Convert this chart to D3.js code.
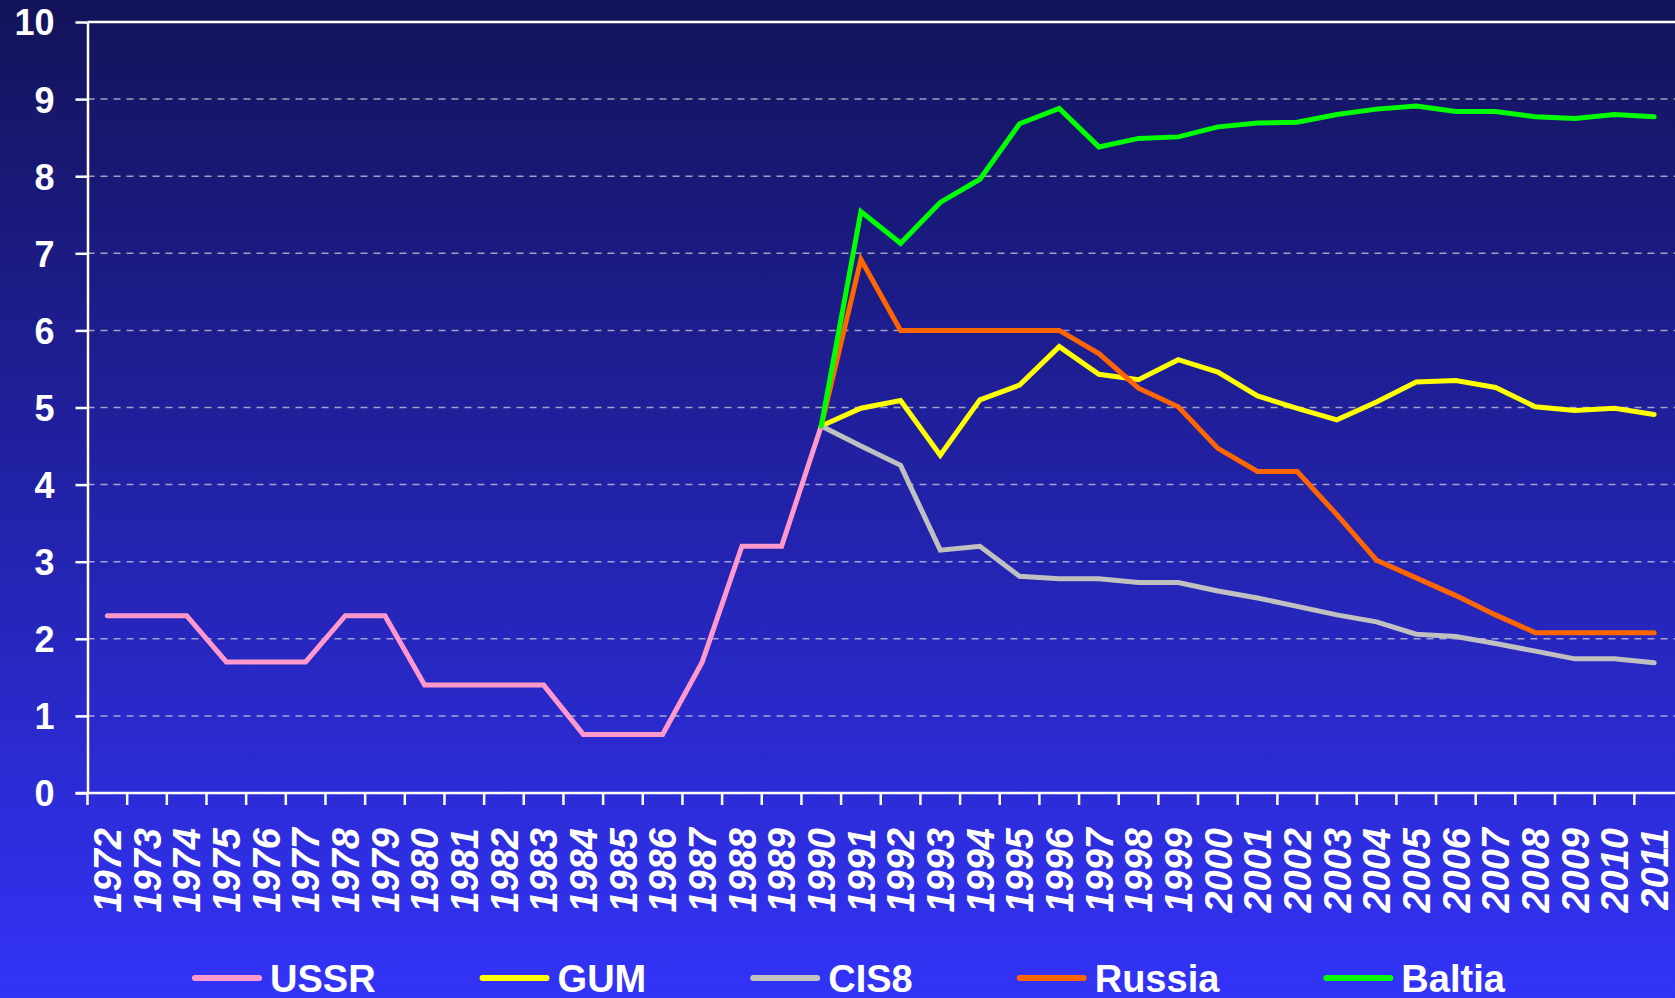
<!DOCTYPE html>
<html>
<head>
<meta charset="utf-8">
<script src="https://cdn.jsdelivr.net/npm/d3@7"></script>
<style>
  body { margin: 0; padding: 0; overflow: hidden; }
  #chart svg { display: block; }
</style>
</head>
<body>
<div id="chart"></div>
<script>
var years = ["1972","1973","1974","1975","1976","1977","1978","1979","1980","1981",
  "1982","1983","1984","1985","1986","1987","1988","1989","1990","1991",
  "1992","1993","1994","1995","1996","1997","1998","1999","2000","2001",
  "2002","2003","2004","2005","2006","2007","2008","2009","2010","2011"];

var yTicks = [0, 1, 2, 3, 4, 5, 6, 7, 8, 9, 10];

// USSR runs 1972-1990, the others 1990-2011
var ussrYears = years.slice(0, 19);
var postYears = years.slice(18);

var ussr = [2.3, 2.3, 2.3, 1.7, 1.7, 1.7, 2.3, 2.3, 1.4, 1.4, 1.4, 1.4, 0.76, 0.76, 0.76, 1.7, 3.2, 3.2, 4.76];
var gum = [4.76, 4.99, 5.09, 4.38, 5.1, 5.29, 5.79, 5.43, 5.36, 5.62, 5.46, 5.15, 4.99, 4.84, 5.07, 5.33, 5.35, 5.26, 5.01, 4.96, 4.99, 4.91];
var cis8 = [4.76, 4.5, 4.25, 3.15, 3.2, 2.81, 2.78, 2.78, 2.73, 2.73, 2.62, 2.53, 2.42, 2.31, 2.22, 2.06, 2.03, 1.94, 1.84, 1.74, 1.74, 1.69];
var russia = [4.76, 6.92, 6.0, 6.0, 6.0, 6.0, 6.0, 5.7, 5.25, 5.01, 4.47, 4.17, 4.17, 3.61, 3.02, 2.79, 2.56, 2.31, 2.08, 2.08, 2.08, 2.08];
var baltia = [4.76, 7.54, 7.13, 7.66, 7.96, 8.68, 8.88, 8.38, 8.49, 8.51, 8.64, 8.69, 8.7, 8.8, 8.87, 8.91, 8.84, 8.84, 8.77, 8.75, 8.8, 8.77];

var seriesNames = ["USSR", "GUM", "CIS8", "Russia", "Baltia"];
var seriesColors = ["#ff99cc", "#ffff00", "#c0c0c0", "#ff6600", "#00ff00"];

var render = function() {
  let width = 1675;
  let height = 998;
  let plot = { left: 87.5, right: 1674, top: 22, bottom: 793 };
  let font = "Arial, 'Liberation Sans', sans-serif";

  d3.select("#chart").html("");

  let svg = d3.select("#chart")
    .append("svg")
    .attr("width", width)
    .attr("height", height);

  let grad = svg.append("defs")
    .append("linearGradient")
    .attr("id", "bg")
    .attr("x1", 0).attr("y1", 0)
    .attr("x2", 0).attr("y2", 1);
  grad.append("stop").attr("offset", "0%").attr("stop-color", "#13135a");
  grad.append("stop").attr("offset", "50%").attr("stop-color", "#2222a8");
  grad.append("stop").attr("offset", "100%").attr("stop-color", "#3333f8");

  svg.append("rect")
    .attr("width", width)
    .attr("height", height)
    .attr("fill", "url(#bg)");

  let xScale = d3.scaleBand()
    .domain(years)
    .range([plot.left, plot.right]);

  let yScale = d3.scaleLinear()
    .domain([0, 10])
    .range([plot.bottom, plot.top]);

  let cx = (d) => xScale(d) + xScale.bandwidth() / 2;

  // gridlines
  svg.append("g")
    .selectAll("line")
    .data(yTicks.filter((d) => d > 0))
    .enter()
    .append("line")
    .attr("x1", plot.left)
    .attr("x2", width)
    .attr("y1", (d) => yScale(d))
    .attr("y2", (d) => yScale(d))
    .attr("stroke", (d) => d == 10 ? "#ffffff" : "rgba(205,205,215,0.75)")
    .attr("stroke-width", (d) => d == 10 ? 2.5 : 1.5)
    .attr("stroke-dasharray", (d) => d == 10 ? null : "7,6");

  // y axis
  let yAxis = svg.append("g")
    .attr("transform", "translate(" + plot.left + ",0)")
    .call(d3.axisLeft(yScale).tickValues(yTicks).tickSize(12).tickPadding(21).tickSizeOuter(0));
  yAxis.select(".domain").attr("stroke", "#fff").attr("stroke-width", 2.5);
  yAxis.selectAll(".tick line").attr("stroke", "#fff").attr("stroke-width", 2.5);
  yAxis.selectAll(".tick text")
    .attr("fill", "#fff")
    .attr("dy", "0.36em")
    .style("font-family", font)
    .style("font-weight", "bold")
    .style("font-size", "36px");

  // x axis: ticks sit on the band edges
  let xg = svg.append("g");
  xg.append("line")
    .attr("x1", plot.left - 12)
    .attr("x2", width)
    .attr("y1", plot.bottom)
    .attr("y2", plot.bottom)
    .attr("stroke", "#fff")
    .attr("stroke-width", 2.5);
  xg.selectAll(".xtick")
    .data(years)
    .enter()
    .append("line")
    .attr("x1", (d) => xScale(d))
    .attr("x2", (d) => xScale(d))
    .attr("y1", plot.bottom)
    .attr("y2", plot.bottom + 12)
    .attr("stroke", "#fff")
    .attr("stroke-width", 2.5);
  xg.selectAll(".xlabel")
    .data(years)
    .enter()
    .append("text")
    .attr("transform", (d) => "translate(" + cx(d) + "," + (plot.bottom + 35) + ") rotate(-90)")
    .attr("dy", "0.36em")
    .attr("text-anchor", "end")
    .attr("fill", "#fff")
    .style("font-family", font)
    .style("font-weight", "bold")
    .style("font-style", "italic")
    .style("font-size", "38px")
    .text((d) => d);

  // lines
  let line = d3.line()
    .x((d) => cx(d.year))
    .y((d) => yScale(d.value));

  let series = [
    ussrYears.map((y, i) => ({ year: y, value: ussr[i] })),
    postYears.map((y, i) => ({ year: y, value: gum[i] })),
    postYears.map((y, i) => ({ year: y, value: cis8[i] })),
    postYears.map((y, i) => ({ year: y, value: russia[i] })),
    postYears.map((y, i) => ({ year: y, value: baltia[i] }))
  ];

  svg.append("g")
    .selectAll("path")
    .data(series)
    .enter()
    .append("path")
    .attr("d", line)
    .attr("fill", "none")
    .attr("stroke", (d, i) => seriesColors[i])
    .attr("stroke-width", 5)
    .attr("stroke-linecap", "round")
    .attr("stroke-linejoin", "miter");

  // legend
  let legend = svg.append("g");
  let lx = 192;
  let ly = 978;
  seriesNames.forEach(function (name, i) {
    legend.append("line")
      .attr("x1", lx + 3)
      .attr("x2", lx + 67)
      .attr("y1", ly)
      .attr("y2", ly)
      .attr("stroke", seriesColors[i])
      .attr("stroke-width", 6)
      .attr("stroke-linecap", "round");
    let t = legend.append("text")
      .attr("x", lx + 78)
      .attr("y", 992)
      .attr("fill", "#fff")
      .style("font-family", font)
      .style("font-weight", "bold")
      .style("font-size", "38px")
      .text(name);
    lx = lx + 78 + t.node().getComputedTextLength() + 104;
  });
};

render();
</script>
</body>
</html>
